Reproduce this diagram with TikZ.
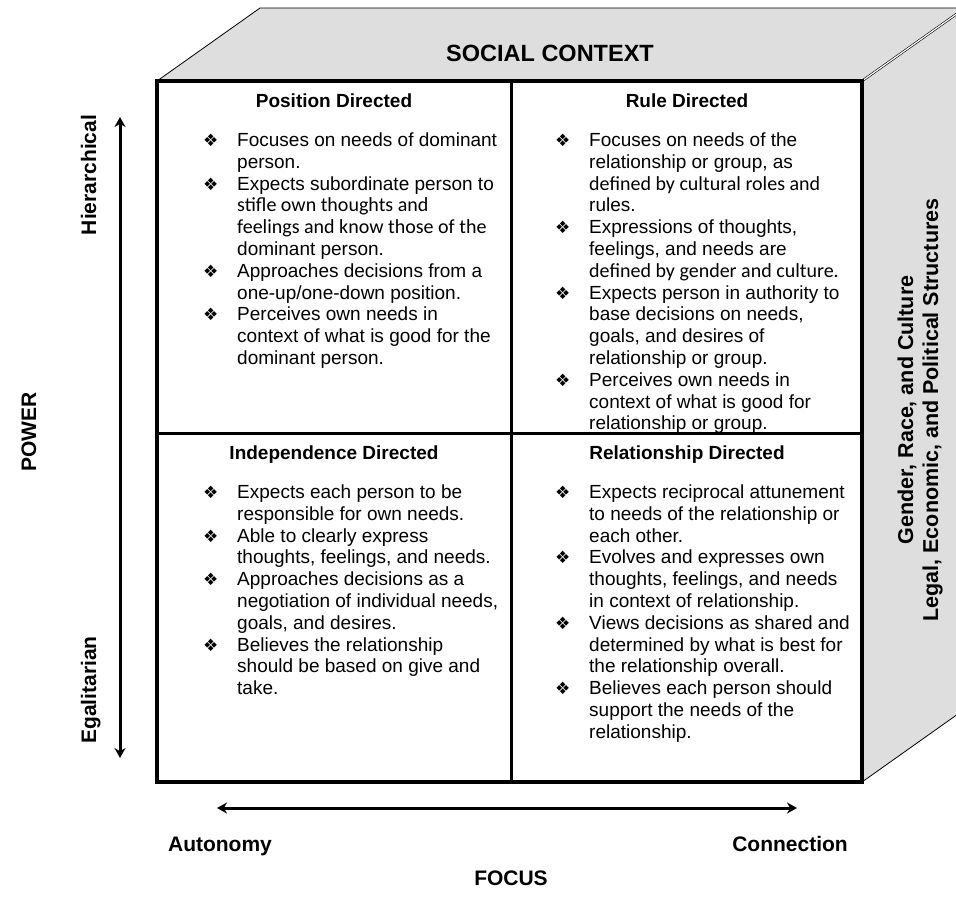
\documentclass[tikz,border=0pt]{standalone}
\usepackage{fontspec}
\setmainfont{Liberation Sans}
\newfontfamily\calfont{Carlito}
\newfontfamily\symfont{DejaVu Sans}
\usetikzlibrary{arrows.meta}

\definecolor{sidegray}{RGB}{222,222,222}

% bullet glyph and the few lines set in another face
\newcommand{\dmd}{{\symfont\fontsize{17}{17}\selectfont ❖}}
\newcommand{\cb}[1]{{\calfont\fontsize{20}{21.8}\selectfont #1}}

\tikzset{
  face/.style={draw=black, line width=0.8pt, fill=sidegray},
  heading/.style={anchor=base, font=\bfseries\fontsize{19}{22}\selectfont},
  bodytext/.style={anchor=north west, inner sep=0pt, font=\fontsize{19}{21.8}\selectfont},
  axislabel/.style={anchor=base, font=\bfseries\fontsize{21}{24}\selectfont},
  sidelabel/.style={anchor=base, font=\bfseries\fontsize{21.5}{24}\selectfont, rotate=90},
  axisarrow/.style={line width=3pt, {Stealth[length=10pt,width=11pt]}-{Stealth[length=10pt,width=11pt]}}
}

\begin{document}
\begin{tikzpicture}[x=1pt,y=-1pt]
	\useasboundingbox (0,0) rectangle (956,906);
	\clip (0,0) rectangle (956,906);

	% Draw top and right faces of the box
	\draw[face] (157,81) -- (260,8) -- (965,8) -- (862,81) -- cycle;
	\draw[face] (862,81) -- (965,8) -- (965,709) -- (862,782) -- cycle;
	\draw[line width=0.6pt, double=white, double distance=1.2pt] (862,81) -- (965,8);

	% Draw front face split into four parts
	\draw[line width=4pt, fill=white] (157,81) rectangle (862,782);
	\draw[line width=3pt] (511,81) -- (511,782);
	\draw[line width=3pt] (157,433) -- (862,433);

	% Labels on the faces
	\node[axislabel, font=\bfseries\fontsize{23.5}{26}\selectfont] (social) at (550,61.5) {SOCIAL CONTEXT};
	\node[sidelabel] (gender) at (913,410) {Gender,  Race,  and Culture};
	\node[sidelabel] (legal) at (938,410) {Legal, Economic,  and  Political  Structures};

	% Titles of the four parts
	\node[heading] (pos title) at (334,107) {Position Directed};
	\node[heading] (rule title) at (687,107) {Rule Directed};
	\node[heading] (ind title) at (334,459) {Independence Directed};
	\node[heading] (rel title) at (687,459) {Relationship Directed};

	% Position directed
	\node[bodytext] (pos list) at (203,131) {\begin{tabular}{@{}p{34pt}@{}l@{}}
		\dmd & Focuses on needs of dominant\\
		& person.\\
		\dmd & Expects subordinate person to\\
		& \cb{stifle own thoughts and}\\
		& \cb{feelings and know those of the}\\
		& dominant person.\\
		\dmd & Approaches decisions from a\\
		& one-up/one-down position.\\
		\dmd & Perceives own needs in\\
		& context of what is good for the\\
		& dominant person.
	\end{tabular}};

	% Rule directed
	\node[bodytext] (rule list) at (555,131) {\begin{tabular}{@{}p{34pt}@{}l@{}}
		\dmd & Focuses on needs of the\\
		& relationship or group, as\\
		& \cb{defined by cultural roles and}\\
		& rules.\\
		\dmd & Expressions of thoughts,\\
		& feelings, and needs are\\
		& \cb{defined by gender and culture.}\\
		\dmd & Expects person in authority to\\
		& base decisions on needs,\\
		& goals, and desires of\\
		& relationship or group.\\
		\dmd & Perceives own needs in\\
		& context of what is good for\\
		& relationship or group.
	\end{tabular}};

	% Independence directed
	\node[bodytext] (ind list) at (203,483) {\begin{tabular}{@{}p{34pt}@{}l@{}}
		\dmd & Expects each person to be\\
		& responsible for own needs.\\
		\dmd & Able to clearly express\\
		& thoughts, feelings, and needs.\\
		\dmd & Approaches decisions as a\\
		& negotiation of individual needs,\\
		& goals, and desires.\\
		\dmd & Believes the relationship\\
		& should be based on give and\\
		& take.
	\end{tabular}};

	% Relationship directed
	\node[bodytext] (rel list) at (555,483) {\begin{tabular}{@{}p{34pt}@{}l@{}}
		\dmd & Expects reciprocal attunement\\
		& to needs of the relationship or\\
		& each other.\\
		\dmd & Evolves and expresses own\\
		& thoughts, feelings, and needs\\
		& in context of relationship.\\
		\dmd & Views decisions as shared and\\
		& determined by what is best for\\
		& the relationship overall.\\
		\dmd & Believes each person should\\
		& support the needs of the\\
		& relationship.
	\end{tabular}};

	% Power axis
	\coordinate (power top) at (120,117);
	\coordinate (power bottom) at (120,758);
	\draw[axisarrow] (power top) -- (power bottom);
	\node[axislabel, rotate=90] (hier) at (96,175) {Hierarchical};
	\node[axislabel, rotate=90] (egal) at (96,690) {Egalitarian};
	\node[axislabel, rotate=90] (power) at (36,432) {POWER};

	% Focus axis
	\coordinate (focus left) at (217,808);
	\coordinate (focus right) at (797,808);
	\draw[axisarrow] (focus left) -- (focus right);
	\node[axislabel] (auto) at (220,851) {Autonomy};
	\node[axislabel] (conn) at (790,851) {Connection};
	\node[axislabel] (focus) at (511,885) {FOCUS};
\end{tikzpicture}
\end{document}
